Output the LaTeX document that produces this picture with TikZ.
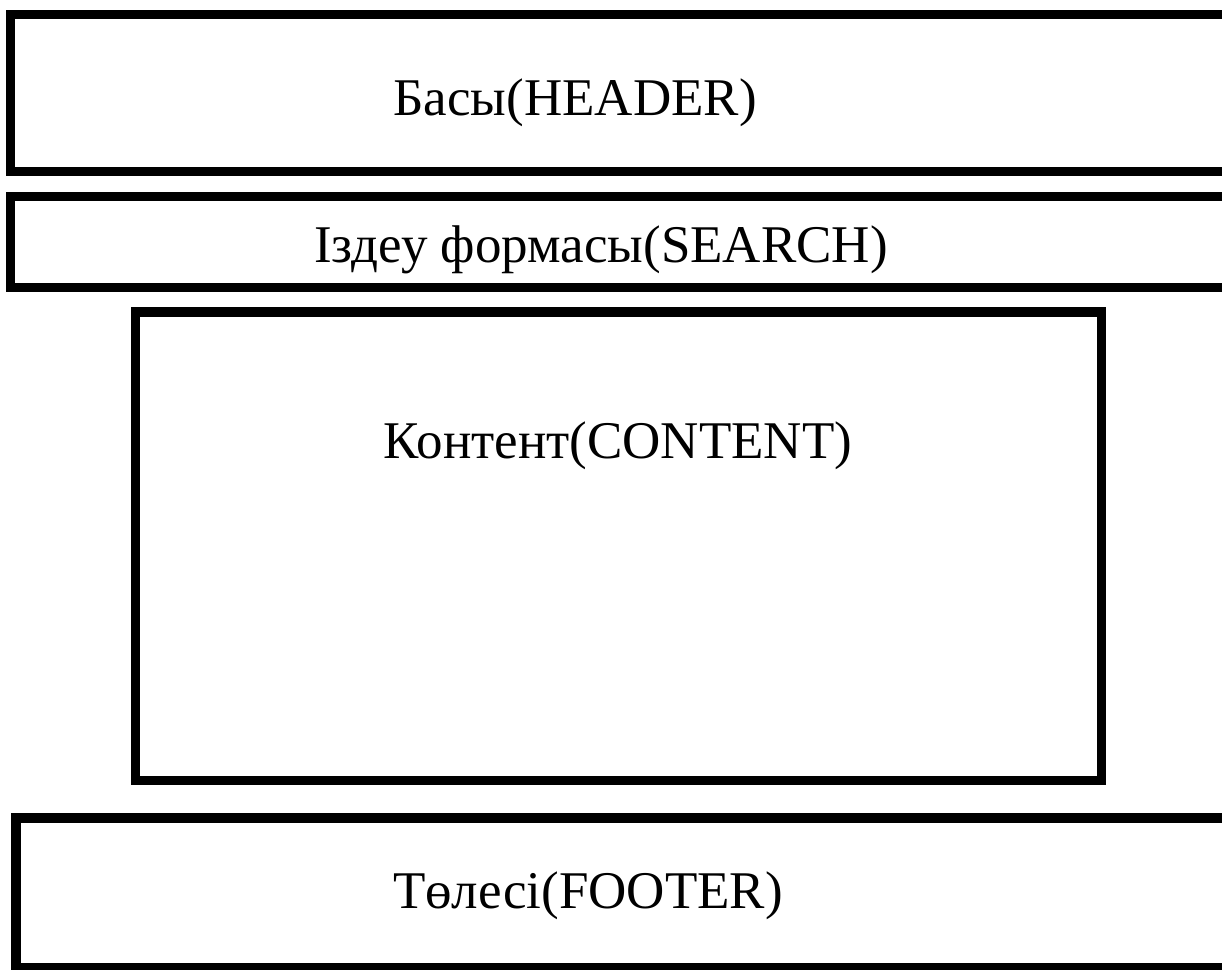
\documentclass[tikz,border=0pt]{standalone}
\usepackage{fontspec}
\setmainfont{Liberation Serif}
\begin{document}
\begin{tikzpicture}[x=1pt,y=-1pt,
  block/.style={draw=black,line width=9.5pt,inner sep=0pt,rectangle},
  caption/.style={font=\fontsize{53}{60}\selectfont,inner sep=0pt,anchor=base}]
  \useasboundingbox (0,0) rectangle (1222,969);
  \clip (0,0) rectangle (1222,969);
  % page regions
  \node[block,minimum width=1229.5pt,minimum height=157pt] (header) at (625.25,93) {};
  \node[block,minimum width=1229.5pt,minimum height=91pt] (search) at (625.25,242) {};
  \node[block,minimum width=966pt,minimum height=468.5pt] (content) at (618.5,546.25) {};
  \node[block,minimum width=1224pt,minimum height=150pt] (footer) at (628,893) {};
  % region titles
  \node[caption] (headertext) at (575,115) {Басы(HEADER)};
  \node[caption] (searchtext) at (601,262) {Іздеу формасы(SEARCH)};
  \node[caption] (contenttext) at (618,458) {Контент(CONTENT)};
  \node[caption] (footertext) at (588,908) {Төлесі(FOOTER)};
\end{tikzpicture}
\end{document}
